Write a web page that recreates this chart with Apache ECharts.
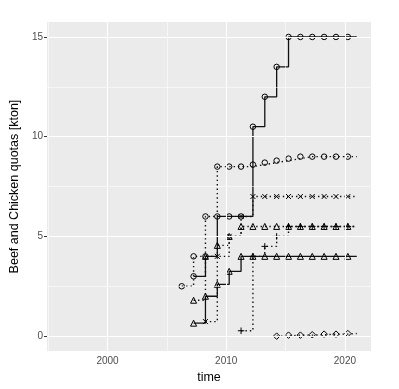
<!DOCTYPE html>
<html>
<head>
<meta charset="utf-8">
<script src="https://cdn.jsdelivr.net/npm/echarts@6/dist/echarts.min.js"></script>
<style>
  html, body { margin: 0; padding: 0; background: #fff; }
  #chart { width: 399px; height: 389px; }
</style>
</head>
<body>
<div id="chart"></div>
<script>
// fiscal years (points sit a quarter into each year)
const years = [2006.25, 2007.25, 2008.25, 2009.25, 2010.25, 2011.25, 2012.25, 2013.25,
               2014.25, 2015.25, 2016.25, 2017.25, 2018.25, 2019.25, 2020.25];
const lineEnd = 2021.0;

// solid lines
const circleSolid   = [null, 3.0, 4.0, 6.0, 6.0, 6.0, 10.5, 12.0, 13.5, 15, 15, 15, 15, 15, 15];
const triangleSolid = [null, 0.65, 2.0, 2.6, 3.25, 4, 4, 4, 4, 4, 4, 4, 4, 4, 4];
// dotted lines
const circleDotted   = [2.5, 4.0, 6.0, 8.5, 8.5, 8.5, 8.6, 8.7, 8.8, 8.9, 9, 9, 9, 9, 9];
const triangleDotted = [null, 1.8, 4.0, 4.55, 5.0, 5.5, 5.5, 5.5, 5.5, 5.5, 5.5, 5.5, 5.5, 5.5, 5.5];
const crossDotted    = [null, null, 0.73, 4.0, 5.0, 6.0, 7, 7, 7, 7, 7, 7, 7, 7, 7];
const plusDotted     = [null, null, null, null, null, 0.27, 4.0, 4.5, 5.0, 5.5, 5.5, 5.5, 5.5, 5.5, 5.5];
const diamondDotted  = [null, null, null, null, null, null, null, null, 0.0, 0.05, 0.05, 0.07, 0.1, 0.1, 0.13];

const xTicks = [2000, 2010, 2020];
const xMinor = [1995, 2005, 2015];
const yTicks = [0, 5, 10, 15];
const yMinor = [2.5, 7.5, 12.5];

const FONT = 'Liberation Sans';
const PLUS = 'path://M5,0L5,10M0,5L10,5';
const CROSS = 'path://M0,0L10,10M10,0L0,10';

function makeSeries(values, symbol, size, dotted) {
  let data = [];
  let last = null;
  values.forEach((v, i) => {
    if (v === null) return;
    data.push([years[i], v]);
    last = v;
  });
  // step runs on past the last point
  data.push({ value: [lineEnd, last], symbol: 'none' });
  return {
    type: 'line',
    step: 'end',
    z: 3,
    silent: true,
    animation: false,
    symbol: symbol,
    symbolSize: size,
    showAllSymbol: true,
    itemStyle: { color: 'rgba(0,0,0,0)', borderColor: '#000', borderWidth: 1 },
    lineStyle: { color: '#111', width: dotted ? 1.4 : 1.3, type: dotted ? [1.4, 3] : 'solid' },
    data: data
  };
}

function gridLines() {
  let d = [];
  xTicks.forEach(v => d.push({ xAxis: v, lineStyle: { width: 1.1 } }));
  xMinor.forEach(v => d.push({ xAxis: v, lineStyle: { width: 0.55 } }));
  yTicks.forEach(v => d.push({ yAxis: v, lineStyle: { width: 1.1 } }));
  yMinor.forEach(v => d.push({ yAxis: v, lineStyle: { width: 0.55 } }));
  return {
    type: 'line', z: 1, silent: true, animation: false, data: [],
    markLine: {
      silent: true, animation: false, symbol: ['none', 'none'],
      label: { show: false },
      lineStyle: { color: '#fff', type: 'solid' },
      data: d
    }
  };
}

const chart = echarts.init(document.getElementById('chart'));
chart.setOption({
  animation: false,
  textStyle: { fontFamily: FONT },
  grid: {
    left: 41, right: 28, top: 22, bottom: 36,
    show: true, backgroundColor: '#EBEBEB', borderWidth: 0
  },
  xAxis: {
    type: 'value', min: 1994.9, max: 2022.2,
    name: 'time', nameLocation: 'middle', nameGap: 17,
    nameTextStyle: { color: '#000', fontSize: 12.5, fontFamily: FONT },
    axisLine: { show: false },
    axisTick: { show: true, length: 3, customValues: xTicks, lineStyle: { color: '#333', width: 1 } },
    axisLabel: { customValues: xTicks, color: '#4D4D4D', fontSize: 10, margin: 5, fontFamily: FONT,
                 formatter: v => String(v) },
    splitLine: { show: false }
  },
  yAxis: {
    type: 'value', min: -0.75, max: 15.75,
    name: 'Beef and Chicken quotas [kton]', nameLocation: 'middle', nameGap: 23,
    nameTextStyle: { color: '#000', fontSize: 12.5, fontFamily: FONT },
    axisLine: { show: false },
    axisTick: { show: true, length: 3, customValues: yTicks, lineStyle: { color: '#333', width: 1 } },
    axisLabel: { customValues: yTicks, color: '#4D4D4D', fontSize: 10, margin: 4, fontFamily: FONT },
    splitLine: { show: false }
  },
  series: [
    gridLines(),
    makeSeries(circleDotted, 'circle', 5.5, true),
    makeSeries(triangleDotted, 'triangle', 6, true),
    makeSeries(crossDotted, CROSS, 5, true),
    makeSeries(plusDotted, PLUS, 6.5, true),
    makeSeries(diamondDotted, 'diamond', 6.5, true),
    makeSeries(circleSolid, 'circle', 5.5, false),
    makeSeries(triangleSolid, 'triangle', 6, false)
  ]
});
</script>
</body>
</html>
